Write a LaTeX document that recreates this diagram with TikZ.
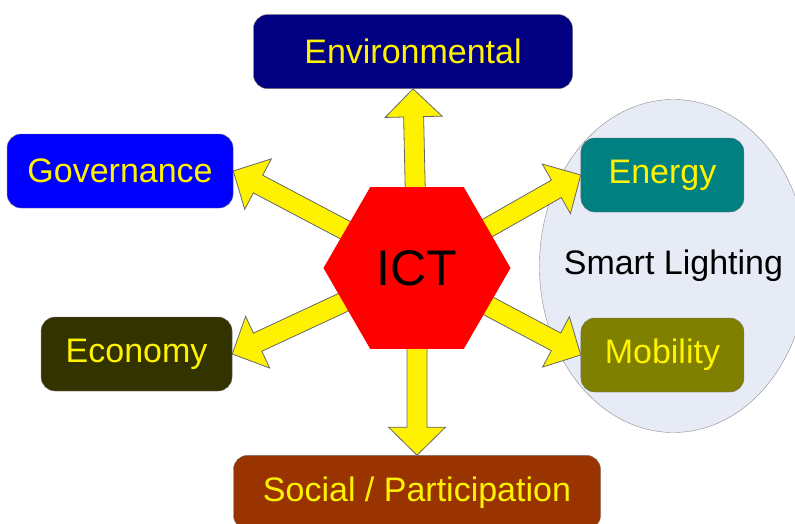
\documentclass[tikz,border=0pt]{standalone}
\usepackage{fontspec}
\setmainfont{Liberation Sans}
\usepackage{xcolor}
\usepackage{tikz}
\usetikzlibrary{positioning}
\usetikzlibrary{calc}
\usetikzlibrary{shapes.geometric}
\usetikzlibrary{backgrounds}

\definecolor{envnavy}{HTML}{000080}
\definecolor{govblue}{HTML}{0000FF}
\definecolor{ecodark}{HTML}{333300}
\definecolor{socbrown}{HTML}{993300}
\definecolor{enteal}{HTML}{008080}
\definecolor{mobolive}{HTML}{808000}
\definecolor{lightfill}{HTML}{E6EBF5}

\tikzset{
  area/.style={draw=black!55, rounded corners=14pt, minimum height=74pt, inner sep=0pt, text=yellow, font=\fontsize{34}{40}\selectfont},
  fatarrow/.style={draw=black!60, fill=yellow, line width=0.8pt, to path={
    ($(\tikztostart)!10pt!90:(\tikztotarget)$)
    -- ($($(\tikztotarget)!28pt!(\tikztostart)$)!10pt!-90:(\tikztostart)$)
    -- ($($(\tikztotarget)!28pt!(\tikztostart)$)!28.5pt!-90:(\tikztostart)$)
    -- (\tikztotarget)
    -- ($($(\tikztotarget)!28pt!(\tikztostart)$)!28.5pt!90:(\tikztostart)$)
    -- ($($(\tikztotarget)!28pt!(\tikztostart)$)!10pt!90:(\tikztostart)$)
    -- ($(\tikztostart)!10pt!-90:(\tikztotarget)$)
    -- cycle}}
}

\begin{document}
\begin{tikzpicture}
\clip (-417pt,-255pt) rectangle (378pt,268pt);

\node (ict) [regular polygon, regular polygon sides=6, minimum size=187pt, inner sep=0pt, fill=red, font=\fontsize{50}{60}\selectfont] {ICT};

\node (env) [above=98pt of ict, xshift=-4pt, area, fill=envnavy, minimum width=319pt] {Environmental};

\node (social) [below=106pt of ict, area, fill=socbrown, minimum width=367pt] {Social / Participation};

\node (gov) [left=90pt of ict, yshift=97pt, area, fill=govblue, minimum width=226pt] {Governance};

\node (eco) [left=91pt of ict, yshift=-86pt, area, fill=ecodark, minimum width=191pt] {Economy};

\node (energy) [right=70pt of ict, yshift=93pt, area, fill=enteal, minimum width=163pt] {Energy};

\node (mobility) [right=70pt of ict, yshift=-87pt, area, fill=mobolive, minimum width=163pt] {Mobility};

\begin{scope}[on background layer]
\node (lighting) at ($(energy)!0.5!(mobility)+(11pt,-1pt)$) [ellipse, draw=black!45, fill=lightfill, minimum width=268pt, minimum height=333pt, inner sep=0pt, label={[font=\fontsize{34}{40}\selectfont]center:Smart Lighting}] {};

\draw [fatarrow] (ict.center) to (env.south);
\draw [fatarrow] (ict.center) to (social.north);
\draw [fatarrow] (ict.center) to (gov.east);
\draw [fatarrow] (ict.center) to (eco.east);
\draw [fatarrow] (ict.center) to (energy.west);
\draw [fatarrow] (ict.center) to (mobility.west);
\end{scope}

\end{tikzpicture}
\end{document}
